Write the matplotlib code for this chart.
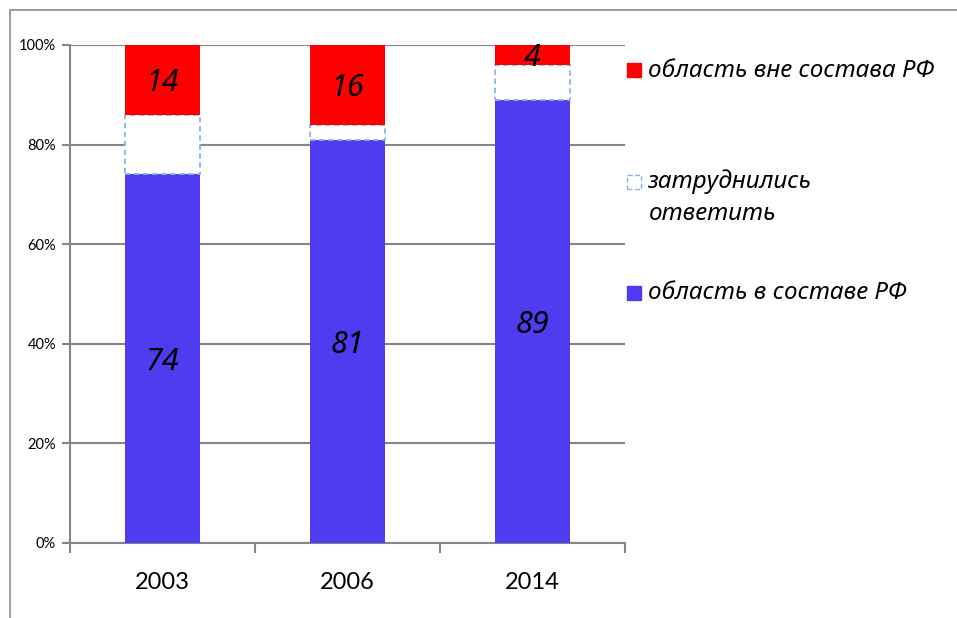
import numpy as np
import matplotlib
matplotlib.use("Agg")
from matplotlib import pyplot as plt
from matplotlib.patches import Rectangle
from matplotlib.ticker import FixedLocator, PercentFormatter

# Data
years = ['2003', '2006', '2014']
inside_rf = [74, 81, 89]      # область в составе РФ
no_answer = [12, 3, 7]        # затруднились ответить
outside_rf = [14, 16, 4]      # область вне состава РФ
labels = [['область вне состава РФ'], ['затруднились', 'ответить'], ['область в составе РФ']]

plt.rcParams['font.family'] = ['Lato', 'DejaVu Sans']
grey = '#868686'
blue = '#4F3BF0'
red = '#FF0000'
ital = ['Noto Sans', 'DejaVu Sans']

fig = plt.figure(figsize=(9.57, 6.18), dpi=100)
ax = fig.add_axes([70/957, 1-543/618, 555/957, 498/618])

x = np.arange(len(years))
w = 0.41
b1 = ax.bar(x, inside_rf, w, color=blue, zorder=3)
b2 = ax.bar(x, no_answer, w, bottom=inside_rf, color='white', edgecolor='#8DB4E2',
            linestyle=(0, (3, 2)), linewidth=1.3, zorder=3)
bottom3 = np.array(inside_rf) + np.array(no_answer)
b3 = ax.bar(x, outside_rf, w, bottom=bottom3, color=red, zorder=3)

# data labels (not on the white segment)
for i in range(len(years)):
    ax.text(x[i], inside_rf[i]/2, str(inside_rf[i]), ha='center', va='center_baseline',
            fontsize=22, style='italic', family=ital, zorder=4)
    ax.text(x[i], bottom3[i] + outside_rf[i]/2, str(outside_rf[i]), ha='center',
            va='center_baseline', fontsize=22, style='italic', family=ital, zorder=4)

ax.set_xlim(-0.5, 2.5)
ax.set_ylim(0, 100)
ax.yaxis.set_major_locator(FixedLocator([0, 20, 40, 60, 80, 100]))
ax.yaxis.set_major_formatter(PercentFormatter(decimals=0))
ax.grid(axis='y', color=grey, linewidth=1.5, zorder=0)
ax.set_xticks(x)
ax.set_xticklabels(years, fontsize=17)
ax.xaxis.set_minor_locator(FixedLocator([-0.5, 0.5, 1.5, 2.5]))
ax.tick_params(axis='x', which='major', length=0, pad=21)
ax.tick_params(axis='x', which='minor', length=7, width=1.5, color=grey)
ax.tick_params(axis='y', length=6, width=1.5, color=grey, labelsize=10.5, pad=4)
for s in ['top', 'right']:
    ax.spines[s].set_visible(False)
for s in ['left', 'bottom']:
    ax.spines[s].set_color(grey)
    ax.spines[s].set_linewidth(1.5)

# legend drawn by hand (Excel style spacing)
W, H = 957, 618
leg = [(70, red, red, '-', [77]),
       (182, 'white', '#8DB4E2', '--', [188, 220]),
       (293, blue, blue, '-', [299])]
for (yc, fc, ec, ls, bases), lines in zip(leg, labels):
    fig.patches.append(Rectangle((627/W, 1-(yc+7)/H), 14/W, 14/H, transform=fig.transFigure,
                                 facecolor=fc, edgecolor=ec, linestyle=ls, linewidth=1))
    for yb, txt in zip(bases, lines):
        fig.text(648/W, 1-yb/H, txt, fontsize=17.5, style='italic', family=ital,
                 va='baseline', ha='left')

# outer chart frame (cropped)
fig.patches.append(Rectangle((10/W, -0.1), 1.2, 1-10/H+0.1, transform=fig.transFigure,
                             facecolor='none', edgecolor='#8c8c8c', linewidth=1.2))

fig.savefig('out.png', dpi=100)
